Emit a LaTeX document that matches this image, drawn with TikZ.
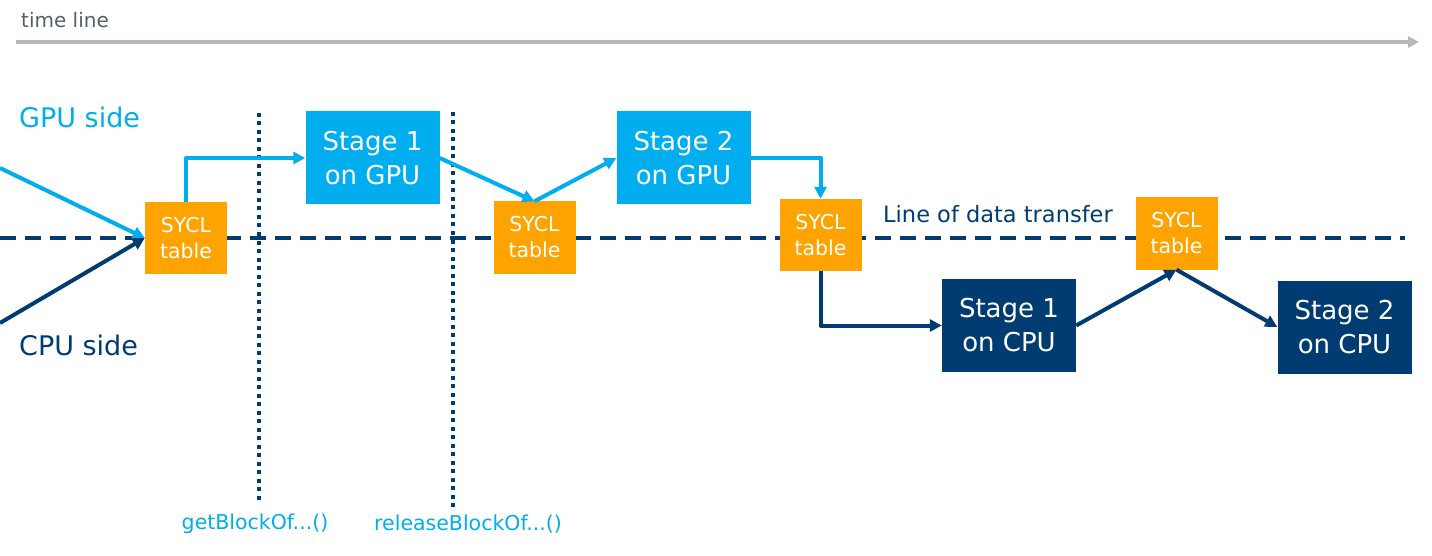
\documentclass[tikz,border=0pt]{standalone}
\usepackage{fontspec}
\setmainfont{DejaVu Sans}
\usepackage{tikz}
\usetikzlibrary{arrows.meta,positioning}

\definecolor{gpublue}{HTML}{00AEEF}
\definecolor{cpublue}{HTML}{003C71}
\definecolor{syclorange}{HTML}{FFA300}
\definecolor{timegray}{HTML}{B2B8BD}
\definecolor{textgray}{HTML}{555F69}

\begin{document}
\begin{tikzpicture}[x=1pt,y=-1pt,
		stage/.style={minimum width=134pt, minimum height=93pt, inner sep=0pt, align=center, text=white, font=\fontsize{26}{34}\selectfont},
		gpustage/.style={stage, fill=gpublue},
		cpustage/.style={stage, fill=cpublue},
		sycltab/.style={fill=syclorange, minimum width=82pt, minimum height=72pt, inner sep=0pt, align=center, text=white, font=\fontsize{20.5}{26}\selectfont},
		gpuflow/.style={gpublue, line width=4pt, line join=round, -{Triangle[length=12pt,width=12pt]}},
		cpuflow/.style={cpublue, line width=4pt, line join=round, -{Triangle[length=12pt,width=12pt]}},
		callline/.style={cpublue, line width=4pt, dash pattern=on 4pt off 4.5pt},
		lbl/.style={inner sep=0pt, anchor=west}]
	\useasboundingbox (0,0) rectangle (1432,556);

	% time axis
	\node[lbl, text=textgray, font=\fontsize{20}{24}\selectfont] (timelbl) at (21,20) {time line};
	\coordinate (tstart) at (16,42);
	\coordinate (tend) at (1419,42);
	\draw[timegray, line width=4pt, -{Triangle[length=11pt,width=11pt]}] (tstart) -- (tend);

	% sides
	\node[lbl, text=gpublue, font=\fontsize{27}{32}\selectfont] (gpulbl) at (19,117) {GPU side};
	\node[lbl, text=cpublue, font=\fontsize{27}{32}\selectfont] (cpulbl) at (19,345) {CPU side};

	% line of data transfer
	\draw[cpublue, line width=4pt, dash pattern=on 16pt off 9pt] (0,238) -- (1405,238);
	\node[lbl, text=cpublue, font=\fontsize{22.5}{27}\selectfont] (xferlbl) at (883,214) {Line of data transfer};

	% calls
	\draw[callline] (259,113) -- (259,500);
	\draw[callline] (453,112) -- (453,507);
	\node[text=gpublue, inner sep=0pt, font=\fontsize{20.5}{24}\selectfont] (getlbl) at (255,524) {getBlockOf...()};
	\node[text=gpublue, inner sep=0pt, font=\fontsize{20.5}{24}\selectfont] (rellbl) at (468,524) {releaseBlockOf...()};

	% tables and stages
	\node[sycltab] (tab1) at (186,238) {SYCL\\table};
	\node[sycltab] (tab2) at (534.5,237.5) {SYCL\\table};
	\node[sycltab] (tab3) at (820.5,235) {SYCL\\table};
	\node[sycltab] (tab4) at (1176.5,233.5) {SYCL\\table};
	\node[gpustage] (gpu1) at (372.5,158) {Stage 1\\on GPU};
	\node[gpustage] (gpu2) at (683.5,158) {Stage 2\\on GPU};
	\node[cpustage] (cpu1) at (1009,325.5) {Stage 1\\on CPU};
	\node[cpustage] (cpu2) at (1344.5,327) {Stage 2\\on CPU};

	% flow
	\coordinate (gpuin) at (0,168);
	\coordinate (cpuin) at (0,323);
	\draw[gpuflow] (gpuin) -- (tab1.west);
	\draw[cpuflow] (cpuin) -- (tab1.west);
	\draw[gpuflow] (tab1.north) |- (gpu1.west);
	\draw[gpuflow] (gpu1.east) -- (tab2.north);
	\draw[gpuflow] (tab2.north) -- (gpu2.west);
	\draw[gpuflow] (gpu2.east) -| (tab3.north);
	\draw[cpuflow] (tab3.south) |- (cpu1.west);
	\draw[cpuflow] (cpu1.east) -- (tab4.south);
	\draw[cpuflow] (tab4.south) -- (cpu2.west);
\end{tikzpicture}
\end{document}
